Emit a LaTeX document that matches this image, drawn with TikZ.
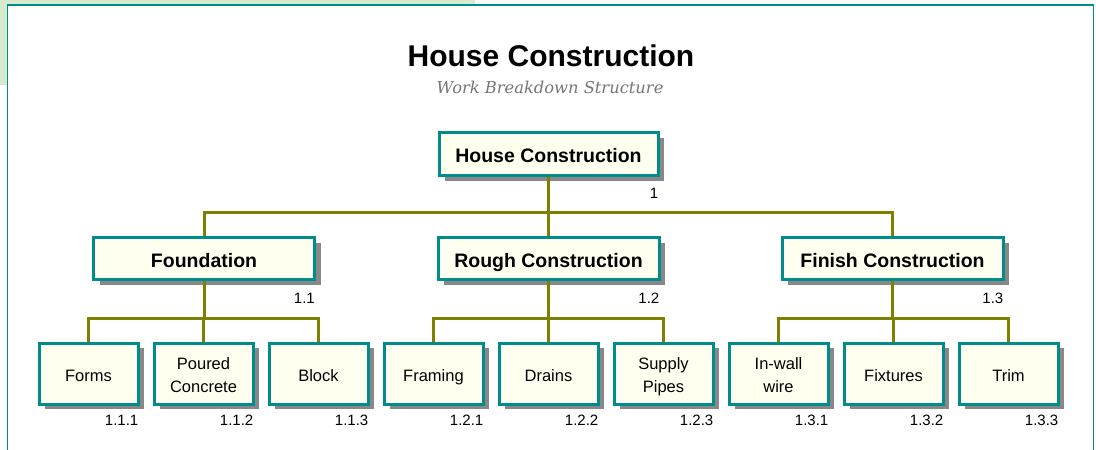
\documentclass[tikz,border=0pt]{standalone}
\usepackage{fontspec}
\setmainfont{Liberation Sans}
\newfontfamily\subtitlefont{DejaVu Serif}
\usetikzlibrary{shadows}

\definecolor{frameteal}{RGB}{0,140,140}
\definecolor{boxfill}{RGB}{255,255,240}
\definecolor{wire}{RGB}{128,128,0}
\definecolor{shade}{RGB}{136,136,136}
\definecolor{subgray}{RGB}{118,118,118}
\definecolor{palegreen}{RGB}{214,234,206}

% invisible struts that keep every box label on the same baseline
\newcommand\boxstrut{\vrule width 0pt height 1.25em depth 0.35em\relax}
\newcommand\topstrut{\vrule width 0pt height 1.2em\relax}
\newcommand\lowstrut{\vrule width 0pt height 0pt depth 0.35em\relax}

\begin{document}
\begin{tikzpicture}[x=1pt,y=-1pt,
  wbs/.style={draw=frameteal, line width=3pt, fill=boxfill, inner sep=0pt, align=center,
    execute at begin node=\boxstrut,
    drop shadow={shadow xshift=6pt, shadow yshift=-5pt, fill=shade, opacity=1}},
  rootbox/.style={wbs, minimum width=219pt, minimum height=43pt,
    font=\bfseries\fontsize{19.5}{23}\selectfont},
  midbox/.style={wbs, minimum width=221pt, minimum height=42pt,
    font=\bfseries\fontsize{19.5}{23}\selectfont},
  leafbox/.style={wbs, minimum width=99pt, minimum height=61pt,
    font=\fontsize{16.5}{23}\selectfont},
  num/.style={anchor=east, inner sep=0pt, font=\fontsize{15}{18}\selectfont},
  link/.style={draw=wire, line width=3pt}]

% canvas and frame
\useasboundingbox (0,0) rectangle (1096,450);
\fill[white] (0,0) rectangle (1096,450);
\fill[palegreen] (0,0) rectangle (475,5);
\fill[palegreen] (0,0) rectangle (7,85);
\draw[frameteal, line width=1.5pt] (7.5,460) -- (7.5,5) -- (1093.3,5) -- (1093.3,460);

% titles
\node[anchor=base, inner sep=0pt, font=\bfseries\fontsize{30}{34}\selectfont] (title) at (551,66) {House Construction};
\node[anchor=base, inner sep=0pt, text=subgray, font=\subtitlefont\itshape\fontsize{16.3}{19}\selectfont] (subtitle) at (550,93) {Work Breakdown Structure};

% level 1
\node[rootbox] (root) at (548.5,154) {House Construction};
% level 2
\node[midbox] (fnd) at (204,258.5) {Foundation};
\node[midbox] (rgh) at (548.5,258.5) {Rough Construction};
\node[midbox] (fin) at (892.5,258.5) {Finish Construction};
% level 3
\node[leafbox] (a1) at (88.5,373.7) {Forms};
\node[leafbox] (a2) at (203.5,373.7) {\topstrut Poured\\\lowstrut Concrete};
\node[leafbox] (a3) at (318.5,373.7) {Block};
\node[leafbox] (b1) at (433.5,373.7) {Framing};
\node[leafbox] (b2) at (548.5,373.7) {Drains};
\node[leafbox] (b3) at (663.5,373.7) {\topstrut Supply\\\lowstrut Pipes};
\node[leafbox] (c1) at (778.5,373.7) {\topstrut In-wall\\\lowstrut wire};
\node[leafbox] (c2) at (893.5,373.7) {Fixtures};
\node[leafbox] (c3) at (1008.5,373.7) {Trim};

% outline numbers
\node[num] (nroot) at ([xshift=-1pt,yshift=-16pt]root.south east) {1};
\node[num] (nfnd) at ([xshift=-1pt,yshift=-17pt]fnd.south east) {1.1};
\node[num] (nrgh) at ([xshift=-1pt,yshift=-17pt]rgh.south east) {1.2};
\node[num] (nfin) at ([xshift=-1pt,yshift=-17pt]fin.south east) {1.3};
\foreach \n/\t in {a1/1.1.1,a2/1.1.2,a3/1.1.3,b1/1.2.1,b2/1.2.2,b3/1.2.3,c1/1.3.1,c2/1.3.2,c3/1.3.3}
  \node[num] (n\n) at ([xshift=-1pt,yshift=-15pt]\n.south east) {\t};

% connectors
\coordinate (busA) at (0,212);
\draw[link] (root.south) -- (root.south |- busA);
\draw[link] (fnd.north) -- (fnd.north |- busA) -- (fin.north |- busA) -- (fin.north);
\draw[link] (rgh.north) -- (rgh.north |- busA);

\coordinate (busB) at (0,318);
\foreach \p/\l/\m/\r in {fnd/a1/a2/a3, rgh/b1/b2/b3, fin/c1/c2/c3} {
  \draw[link] (\p.south) -- (\p.south |- busB);
  \draw[link] (\l.north) -- (\l.north |- busB) -- (\r.north |- busB) -- (\r.north);
  \draw[link] (\m.north) -- (\m.north |- busB);
}
\end{tikzpicture}
\end{document}
